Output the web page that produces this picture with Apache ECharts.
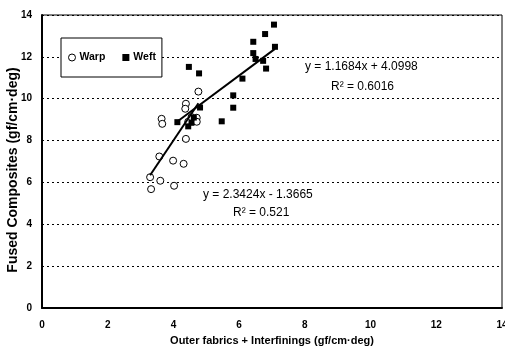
<!DOCTYPE html>
<html>
<head>
<meta charset="utf-8">
<script src="https://cdn.jsdelivr.net/npm/echarts@6/dist/echarts.min.js"></script>
<style>
  html, body { margin: 0; padding: 0; background: #fff; }
  #chart { width: 505px; height: 351px; }
</style>
</head>
<body>
<div id="chart"></div>
<script>
// Bending rigidity: fused composites vs. outer fabric + interlining
const warpX = [3.29, 3.60, 3.32, 4.02, 3.57, 3.99, 4.31, 4.38, 3.64, 3.66, 4.38, 4.36, 4.71, 4.71, 4.76, 4.45, 4.55];
const warpY = [6.25, 6.08, 5.68, 5.84, 7.24, 7.04, 6.89, 8.08, 9.04, 8.80, 9.76, 9.52, 9.09, 8.90, 10.34, 8.90, 9.12];

const weftX = [4.12, 4.47, 4.78, 4.81, 4.45, 4.55, 4.62, 5.47, 5.82, 5.82, 6.10, 6.43, 6.43, 6.50, 7.06, 6.79, 7.09, 6.82, 6.73];
const weftY = [8.88, 11.52, 11.21, 9.58, 8.68, 8.85, 9.10, 8.92, 10.16, 9.57, 10.96, 12.72, 12.18, 11.90, 13.54, 13.09, 12.48, 11.44, 11.81];

// linear fits: [slope, intercept, R²]
const warpFit = [2.3424, -1.3665, 0.521];
const weftFit = [1.1684, 4.0998, 0.6016];

const xTicks = [0, 2, 4, 6, 8, 10, 12, 14];
const yTicks = [0, 2, 4, 6, 8, 10, 12, 14];

const xTitle = 'Outer fabrics + Interfinings (gf/cm·deg)';
const yTitle = 'Fused Composites (gf/cm·deg)';

function pairs(xs, ys) { return xs.map((x, i) => [x, ys[i]]); }
function fitLine(xs, fit) {
  const lo = Math.min(...xs), hi = Math.max(...xs);
  return [[lo, fit[0] * lo + fit[1]], [hi, fit[0] * hi + fit[1]]];
}
function eqText(fit) {
  const sign = fit[1] < 0 ? ' - ' : ' + ';
  return 'y = ' + fit[0] + 'x' + sign + Math.abs(fit[1]);
}

const chart = echarts.init(document.getElementById('chart'), null, { renderer: 'canvas' });

const FONT = 'Liberation Sans, Arial, sans-serif';
const boldAxis = { fontFamily: FONT, fontWeight: 'bold', fontSize: 10, color: '#000' };
const eqStyle = { fontFamily: FONT, fontSize: 12, fill: '#000' };

chart.setOption({
  animation: false,
  backgroundColor: '#fff',
  grid: {
    left: 42, top: 15, right: 3, bottom: 43,
    show: true, borderColor: '#000', borderWidth: 1,
    containLabel: false, outerBoundsMode: 'none'
  },
  legend: {
    left: 61, top: 38,
    padding: [14, 6, 14, 7],
    itemGap: 17,
    itemWidth: 7, itemHeight: 7,
    borderColor: '#000', borderWidth: 1,
    backgroundColor: '#fff',
    textStyle: { fontFamily: FONT, fontWeight: 'bold', fontSize: 10.5, color: '#000', padding: [0, 0, 0, -1] },
    data: [
      { name: 'Warp', icon: 'circle', itemStyle: { color: '#fff', borderColor: '#000', borderWidth: 1 } },
      { name: 'Weft', icon: 'rect', itemStyle: { color: '#000' } }
    ]
  },
  xAxis: {
    type: 'value', min: xTicks[0], max: xTicks[xTicks.length - 1], interval: 2,
    name: xTitle,
    nameLocation: 'middle', nameGap: 27,
    nameTextStyle: { fontFamily: FONT, fontWeight: 'bold', fontSize: 11, color: '#000' },
    axisLine: { lineStyle: { color: '#000', width: 2 } },
    axisTick: { show: false },
    axisLabel: Object.assign({ margin: 12 }, boldAxis),
    splitLine: { show: false }
  },
  yAxis: {
    type: 'value', min: yTicks[0], max: yTicks[yTicks.length - 1], interval: 2,
    axisLine: { lineStyle: { color: '#000', width: 2 } },
    axisTick: { show: false },
    axisLabel: Object.assign({ margin: 10 }, boldAxis),
    splitLine: { show: true, lineStyle: { color: '#000', type: [2, 3], width: 1 } }
  },
  series: [
    {
      name: 'Warp', type: 'scatter', symbol: 'circle', symbolSize: 7,
      itemStyle: { color: '#fff', borderColor: '#000', borderWidth: 1, opacity: 1 },
      data: pairs(warpX, warpY), z: 3
    },
    {
      name: 'Weft', type: 'scatter', symbol: 'rect', symbolSize: 6,
      itemStyle: { color: '#000', opacity: 1 },
      data: pairs(weftX, weftY), z: 4
    },
    {
      name: 'Warp fit', type: 'line', showSymbol: false, silent: true,
      lineStyle: { color: '#000', width: 2 },
      data: fitLine(warpX, warpFit), z: 5
    },
    {
      name: 'Weft fit', type: 'line', showSymbol: false, silent: true,
      lineStyle: { color: '#000', width: 2 },
      data: fitLine(weftX, weftFit), z: 5
    }
  ],
  graphic: [
    {
      type: 'text', x: 13, y: 170, rotation: Math.PI / 2,
      style: { text: yTitle, fontFamily: FONT, fontWeight: 'bold', fontSize: 14, fill: '#000', align: 'center', verticalAlign: 'middle' }
    },
    { type: 'text', left: 305, top: 61, style: Object.assign({ text: eqText(weftFit) }, eqStyle) },
    { type: 'text', left: 331, top: 81, style: Object.assign({ text: 'R² = ' + weftFit[2] }, eqStyle) },
    { type: 'text', left: 203, top: 189, style: Object.assign({ text: eqText(warpFit) }, eqStyle) },
    { type: 'text', left: 233, top: 207, style: Object.assign({ text: 'R² = ' + warpFit[2] }, eqStyle) }
  ]
});
</script>
</body>
</html>
